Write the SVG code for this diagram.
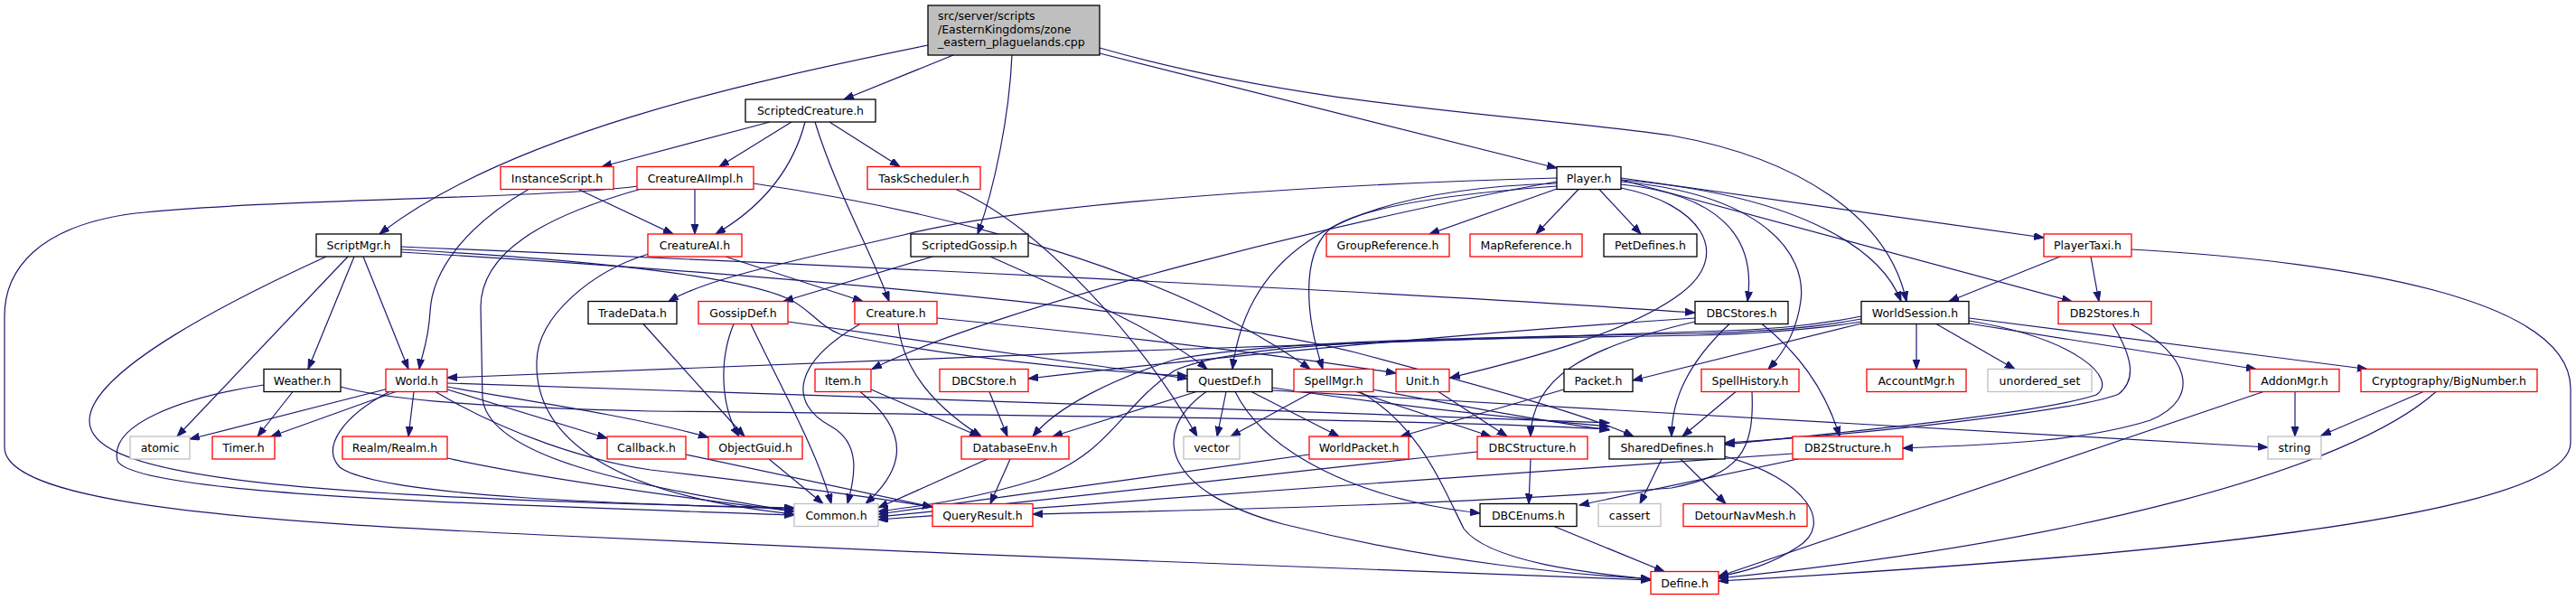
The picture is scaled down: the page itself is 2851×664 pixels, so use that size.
<svg xmlns="http://www.w3.org/2000/svg" width="2851" height="664" viewBox="0 0 2851 664">
<defs>
<marker id="a" markerUnits="userSpaceOnUse" markerWidth="12" markerHeight="10" refX="11" refY="4" orient="auto"><path d="M0,0 L11,4 L0,8 z" fill="#191970" stroke="#191970" stroke-width="1"/></marker>
<style>
rect{fill:#fff;stroke-width:1.3}
.k{stroke:#000}.r{stroke:#ff0000}.g{stroke:#bfbfbf}
text{font-family:"DejaVu Sans","Liberation Sans",sans-serif;font-size:12.5px;fill:#000;text-anchor:middle}
#edges path{fill:none;stroke:#191970;stroke-width:1.2;marker-end:url(#a)}
</style>
</defs>
<rect width="2851" height="664" fill="#fff" stroke="none"/>
<g id="edges">
<path d="M1027,50 C820,92 560,150 420,259"/>
<path d="M1055,61 L934,110"/>
<path d="M1120,61 C1117,130 1100,210 1082,259"/>
<path d="M1217,59 L1723,186"/>
<path d="M1217,53 C1450,120 1700,128 1850,150 C1990,175 2090,240 2110,333.5"/>
<path d="M852,135 L666,184.5"/>
<path d="M876,135 L796,184.5"/>
<path d="M891,135 C878,185 845,228 792,259"/>
<path d="M902,135 C925,210 965,280 984,333.5"/>
<path d="M918,135 L996,184.5"/>
<path d="M585,209.5 C515,250 478,300 476,345 C474,380 466,395 464,408.5"/>
<path d="M640,209.5 L745,259"/>
<path d="M769,209.5 L769,259"/>
<path d="M706,206 C600,220 300,220 150,236 C40,250 5,300 5,350 L5,495 C5,560 300,578 600,592 C1000,612 1500,630 1827,642"/>
<path d="M708,209.5 C600,240 532,280 532,340 L534,440 C540,510 720,540 879,566"/>
<path d="M834,203 C1050,235 1300,300 1450,408.5"/>
<path d="M803,284 L955,333.5"/>
<path d="M718,281 C655,300 595,350 594,400 C592,470 650,545 879,569"/>
<path d="M1058,209.5 C1150,250 1260,370 1325,483"/>
<path d="M1032,284 L867,333.5"/>
<path d="M1096,284 C1200,330 1290,370 1336,408.5"/>
<path d="M1723,197 C1500,203 1150,222 1000,260 C850,295 780,310 740,333.5"/>
<path d="M1723,201 C1500,240 1100,340 965,408.5"/>
<path d="M1723,203 C1480,210 1380,280 1364,408.5"/>
<path d="M1723,206 C1600,215 1500,230 1470,255 C1440,285 1445,350 1464,408.5"/>
<path d="M1723,209 L1582,259"/>
<path d="M1747,209.5 L1700,259"/>
<path d="M1770,209.5 L1816,259"/>
<path d="M1794,208 C1880,225 1920,280 1860,325 C1800,370 1680,400 1605,418"/>
<path d="M1794,204 C1900,215 1945,260 1934,333.5"/>
<path d="M1794,201 C1950,215 2000,280 1993,333 C1988,370 1970,395 1957,408.5"/>
<path d="M1794,199 C1980,215 2080,270 2104,333.5"/>
<path d="M1794,199 L2293,333.5"/>
<path d="M1794,197 L2262,263"/>
<path d="M2280,284 L2157,333.5"/>
<path d="M2314,284 L2323,333.5"/>
<path d="M2359,276 C2600,290 2845,330 2845,430 L2845,490 C2845,570 2400,615 1902,643"/>
<path d="M712,358.5 L824,483"/>
<path d="M812,358.5 C795,400 798,450 818,483"/>
<path d="M831,358.5 C860,420 905,500 920,557.5"/>
<path d="M872,356 L1314,419"/>
<path d="M952,358.5 C880,400 870,445 920,472 C955,492 945,530 938,557.5"/>
<path d="M994,358.5 C1000,420 1050,460 1086,483"/>
<path d="M1037,352 C1200,368 1400,390 1545,413"/>
<path d="M1876,352 C1600,370 1300,400 1138,419"/>
<path d="M1876,356 C1750,385 1695,420 1694,483"/>
<path d="M1914,358.5 C1870,400 1850,440 1850,483"/>
<path d="M1950,358.5 C1990,390 2020,430 2036,483"/>
<path d="M2060,350 C2010,360 1960,365 1880,367 C1500,378 800,405 495,418"/>
<path d="M2060,353 C2010,362 1960,367 1880,369 C1600,374 1400,378 1300,398 C1230,420 1170,450 1143,483"/>
<path d="M2060,356 C2010,364 1960,369 1880,371 C1600,376 1380,375 1300,410 C1240,450 1230,500 1150,530 C1080,552 1020,560 972,566"/>
<path d="M2060,358 L1807,421"/>
<path d="M2121,358.5 L2121,408.5"/>
<path d="M2143,358.5 L2230,408.5"/>
<path d="M2179,358 L2497,408.5"/>
<path d="M2179,352 L2620,408.5"/>
<path d="M2179,355 C2300,375 2345,420 2320,437 C2250,460 2000,482 1909,492"/>
<path d="M2338,358.5 C2360,395 2365,420 2345,436 C2300,455 2050,482 1909,490"/>
<path d="M2358,358.5 C2420,390 2440,440 2380,465 C2300,490 2200,492 2106,496"/>
<path d="M1324,433.5 L1165,483"/>
<path d="M1357,433.5 L1347,483"/>
<path d="M1335,433.5 C1270,480 1290,545 1420,580 C1600,625 1750,636 1827,641"/>
<path d="M1367,433.5 C1400,500 1500,552 1638,568"/>
<path d="M1385,433.5 L1482,483"/>
<path d="M1408,429 C1550,450 1700,465 1781,472"/>
<path d="M1408,432 C1800,455 2200,478 2510,495"/>
<path d="M1453,433.5 L1362,483"/>
<path d="M1501,433.5 L1650,483"/>
<path d="M1519,431 C1620,450 1720,468 1781,476"/>
<path d="M1505,433.5 C1570,470 1595,535 1620,585 C1650,625 1780,636 1827,641"/>
<path d="M1592,433.5 L1668,483"/>
<path d="M1731,431 L1550,483"/>
<path d="M1921,433.5 L1862,483"/>
<path d="M1939,433.5 C1942,500 1925,525 1850,540 C1600,560 1300,565 1143,569"/>
<path d="M2540,433.5 L2540,483"/>
<path d="M2505,433.5 L1902,638"/>
<path d="M2682,433.5 L2569,482"/>
<path d="M2696,433.5 C2600,520 2300,600 1902,640"/>
<path d="M324,433.5 L285,483"/>
<path d="M292,426 C200,440 120,470 130,510 C150,550 600,560 879,570"/>
<path d="M377,428 C420,440 500,450 720,455 C1200,460 1600,465 1781,475"/>
<path d="M430,430 L210,486"/>
<path d="M438,433.5 L300,483"/>
<path d="M458,433.5 L452,483"/>
<path d="M495,431 L672,485"/>
<path d="M495,428 C560,440 700,460 784,484"/>
<path d="M431,433.5 C380,460 355,495 376,517 C420,550 700,558 879,563"/>
<path d="M482,433.5 C560,480 650,510 720,520 C850,535 950,548 1032,561"/>
<path d="M495,424 C700,430 1300,450 1781,468"/>
<path d="M361,284 C260,330 100,410 99,465 C98,520 250,550 879,562"/>
<path d="M385,284 L196,483"/>
<path d="M392,284 L341,408.5"/>
<path d="M402,284 L452,408.5"/>
<path d="M444,273 C800,288 1500,320 1876,346"/>
<path d="M444,276 C600,285 800,300 871,330 C895,340 905,360 930,370 C1050,395 1200,410 1314,416"/>
<path d="M444,279 C800,300 1300,340 1500,390 C1650,430 1760,460 1808,483"/>
<path d="M851,508 L911,557.5"/>
<path d="M759,503 L1032,561"/>
<path d="M495,507 C600,530 750,550 879,566"/>
<path d="M1093,508 L972,562"/>
<path d="M1118,508 L1096,557.5"/>
<path d="M1449,503 C1300,525 1100,550 972,569"/>
<path d="M1694,508 L1692,557.5"/>
<path d="M1635,500 C1400,525 1150,555 972,572"/>
<path d="M1990,508 L1748,559"/>
<path d="M1984,502 C1700,520 1200,560 972,575"/>
<path d="M1839,508 L1815,557.5"/>
<path d="M1860,508 L1910,557.5"/>
<path d="M1909,505 C2000,530 2030,580 1990,605 C1960,625 1930,633 1902,638"/>
<path d="M1720,582.5 L1842,632.5"/>
<path d="M952,433.5 C1010,480 1000,520 958,557.5"/>
<path d="M964,431 L1084,483"/>
<path d="M1095,433.5 L1115,483"/>
</g>
<g id="n_top"><rect x="1027" y="6" width="190" height="55" class="k" style="fill:#bfbfbf"/><text x="1038" y="22" style="text-anchor:start">src/server/scripts</text><text x="1038" y="36.5" style="text-anchor:start">/EasternKingdoms/zone</text><text x="1038" y="51" style="text-anchor:start">_eastern_plaguelands.cpp</text></g>
<g id="n_ScriptedCreature"><rect x="825" y="110" width="144" height="25" class="k"/><text x="897" y="127">ScriptedCreature.h</text></g>
<g id="n_InstanceScript"><rect x="554" y="184.5" width="125" height="25" class="r"/><text x="616.5" y="201.5">InstanceScript.h</text></g>
<g id="n_CreatureAIImpl"><rect x="705" y="184.5" width="129" height="25" class="r"/><text x="769.5" y="201.5">CreatureAIImpl.h</text></g>
<g id="n_TaskScheduler"><rect x="960" y="184.5" width="125" height="25" class="r"/><text x="1022.5" y="201.5">TaskScheduler.h</text></g>
<g id="n_Player"><rect x="1723" y="184.5" width="71" height="25" class="k"/><text x="1758.5" y="201.5">Player.h</text></g>
<g id="n_ScriptMgr"><rect x="350" y="259" width="94" height="25" class="k"/><text x="397" y="276">ScriptMgr.h</text></g>
<g id="n_CreatureAI"><rect x="717" y="259" width="104" height="25" class="r"/><text x="769" y="276">CreatureAI.h</text></g>
<g id="n_ScriptedGossip"><rect x="1008" y="259" width="130" height="25" class="k"/><text x="1073" y="276">ScriptedGossip.h</text></g>
<g id="n_GroupReference"><rect x="1468" y="259" width="136" height="25" class="r"/><text x="1536" y="276">GroupReference.h</text></g>
<g id="n_MapReference"><rect x="1627" y="259" width="124" height="25" class="r"/><text x="1689" y="276">MapReference.h</text></g>
<g id="n_PetDefines"><rect x="1775" y="259" width="103" height="25" class="k"/><text x="1826.5" y="276">PetDefines.h</text></g>
<g id="n_PlayerTaxi"><rect x="2262" y="259" width="97" height="25" class="r"/><text x="2310.5" y="276">PlayerTaxi.h</text></g>
<g id="n_TradeData"><rect x="651" y="333.5" width="98" height="25" class="k"/><text x="700" y="350.5">TradeData.h</text></g>
<g id="n_GossipDef"><rect x="773" y="333.5" width="99" height="25" class="r"/><text x="822.5" y="350.5">GossipDef.h</text></g>
<g id="n_Creature"><rect x="946" y="333.5" width="91" height="25" class="r"/><text x="991.5" y="350.5">Creature.h</text></g>
<g id="n_DBCStores"><rect x="1876" y="333.5" width="103" height="25" class="k"/><text x="1927.5" y="350.5">DBCStores.h</text></g>
<g id="n_WorldSession"><rect x="2060" y="333.5" width="119" height="25" class="k"/><text x="2119.5" y="350.5">WorldSession.h</text></g>
<g id="n_DB2Stores"><rect x="2278" y="333.5" width="103" height="25" class="r"/><text x="2329.5" y="350.5">DB2Stores.h</text></g>
<g id="n_Weather"><rect x="292" y="408.5" width="85" height="25" class="k"/><text x="334.5" y="425.5">Weather.h</text></g>
<g id="n_World"><rect x="427" y="408.5" width="68" height="25" class="r"/><text x="461" y="425.5">World.h</text></g>
<g id="n_Item"><rect x="902" y="408.5" width="62" height="25" class="r"/><text x="933" y="425.5">Item.h</text></g>
<g id="n_DBCStore"><rect x="1040" y="408.5" width="98" height="25" class="r"/><text x="1089" y="425.5">DBCStore.h</text></g>
<g id="n_QuestDef"><rect x="1314" y="408.5" width="94" height="25" class="k"/><text x="1361" y="425.5">QuestDef.h</text></g>
<g id="n_SpellMgr"><rect x="1432" y="408.5" width="88" height="25" class="r"/><text x="1476" y="425.5">SpellMgr.h</text></g>
<g id="n_Unit"><rect x="1545" y="408.5" width="59" height="25" class="r"/><text x="1574.5" y="425.5">Unit.h</text></g>
<g id="n_Packet"><rect x="1731" y="408.5" width="76" height="25" class="k"/><text x="1769" y="425.5">Packet.h</text></g>
<g id="n_SpellHistory"><rect x="1883" y="408.5" width="108" height="25" class="r"/><text x="1937" y="425.5">SpellHistory.h</text></g>
<g id="n_AccountMgr"><rect x="2066" y="408.5" width="110" height="25" class="r"/><text x="2121" y="425.5">AccountMgr.h</text></g>
<g id="n_unordered_set"><rect x="2200" y="408.5" width="115" height="25" class="g"/><text x="2257.5" y="425.5">unordered_set</text></g>
<g id="n_AddonMgr"><rect x="2490" y="408.5" width="99" height="25" class="r"/><text x="2539.5" y="425.5">AddonMgr.h</text></g>
<g id="n_BigNumber"><rect x="2613" y="408.5" width="195" height="25" class="r"/><text x="2710.5" y="425.5">Cryptography/BigNumber.h</text></g>
<g id="n_atomic"><rect x="144" y="483" width="66" height="25" class="g"/><text x="177" y="500">atomic</text></g>
<g id="n_Timer"><rect x="235" y="483" width="69" height="25" class="r"/><text x="269.5" y="500">Timer.h</text></g>
<g id="n_Realm"><rect x="379" y="483" width="116" height="25" class="r"/><text x="437" y="500">Realm/Realm.h</text></g>
<g id="n_Callback"><rect x="672" y="483" width="87" height="25" class="r"/><text x="715.5" y="500">Callback.h</text></g>
<g id="n_ObjectGuid"><rect x="784" y="483" width="104" height="25" class="r"/><text x="836" y="500">ObjectGuid.h</text></g>
<g id="n_DatabaseEnv"><rect x="1064" y="483" width="119" height="25" class="r"/><text x="1123.5" y="500">DatabaseEnv.h</text></g>
<g id="n_vector"><rect x="1310" y="483" width="62" height="25" class="g"/><text x="1341" y="500">vector</text></g>
<g id="n_WorldPacket"><rect x="1449" y="483" width="110" height="25" class="r"/><text x="1504" y="500">WorldPacket.h</text></g>
<g id="n_DBCStructure"><rect x="1635" y="483" width="122" height="25" class="r"/><text x="1696" y="500">DBCStructure.h</text></g>
<g id="n_SharedDefines"><rect x="1781" y="483" width="128" height="25" class="k"/><text x="1845" y="500">SharedDefines.h</text></g>
<g id="n_DB2Structure"><rect x="1984" y="483" width="122" height="25" class="r"/><text x="2045" y="500">DB2Structure.h</text></g>
<g id="n_string"><rect x="2510" y="483" width="59" height="25" class="g"/><text x="2539.5" y="500">string</text></g>
<g id="n_Common"><rect x="879" y="557.5" width="93" height="25" class="g"/><text x="925.5" y="574.5">Common.h</text></g>
<g id="n_QueryResult"><rect x="1032" y="557.5" width="111" height="25" class="r"/><text x="1087.5" y="574.5">QueryResult.h</text></g>
<g id="n_DBCEnums"><rect x="1638" y="557.5" width="107" height="25" class="k"/><text x="1691.5" y="574.5">DBCEnums.h</text></g>
<g id="n_cassert"><rect x="1769" y="557.5" width="69" height="25" class="g"/><text x="1803.5" y="574.5">cassert</text></g>
<g id="n_DetourNavMesh"><rect x="1863" y="557.5" width="137" height="25" class="r"/><text x="1931.5" y="574.5">DetourNavMesh.h</text></g>
<g id="n_Define"><rect x="1827" y="632.5" width="75" height="25" class="r"/><text x="1864.5" y="649.5">Define.h</text></g>
</svg>
